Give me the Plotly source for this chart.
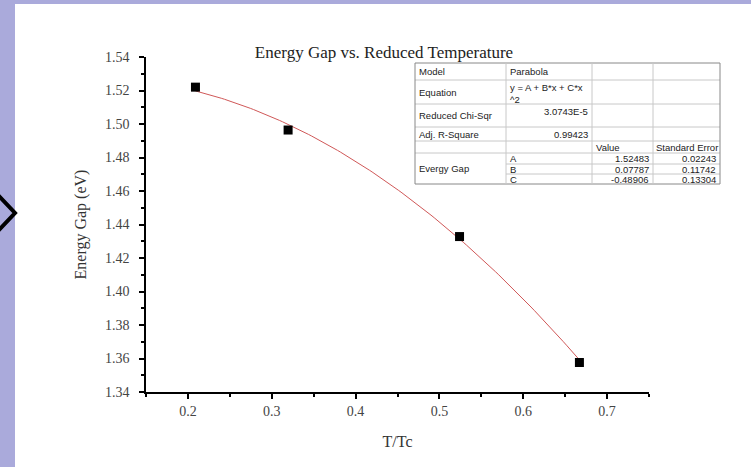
import numpy as np
import plotly.graph_objects as go

# measured points (reduced temperature vs energy gap)
t_ratio = [0.209, 0.3195, 0.524, 0.667]
energy_gap = [1.522, 1.4964, 1.4328, 1.3576]

# parabola fit reported in the table
fit_names = ["A", "B", "C"]
fit_values = [1.52483, 0.07787, -0.48906]
fit_errors = [0.02243, 0.11742, 0.13304]
chi_sqr = "3.0743E-5"
adj_r2 = "0.99423"

W, H = 751, 467
PL, PR, PT, PB = 146, 649, 57, 392


def fx(px):
    return (px - PL) / (PR - PL)


def fy(py):
    return (PB - py) / (PB - PT)


xs = np.linspace(min(t_ratio), max(t_ratio), 120)
A, B, C = fit_values
ys = A + B * xs + C * xs ** 2

fig = go.Figure()
fig.add_trace(go.Scatter(x=xs, y=ys, mode="lines",
                         line=dict(color="#d05858", width=1), hoverinfo="skip"))
fig.add_trace(go.Scatter(x=t_ratio, y=energy_gap, mode="markers",
                         marker=dict(symbol="square", size=9, color="black")))

shapes = []
# white slide area over the lavender background
shapes.append(dict(type="rect", xref="paper", yref="paper", layer="below",
                   x0=fx(15), x1=fx(751), y0=fy(467), y1=fy(4),
                   fillcolor="white", line=dict(width=0)))
# chevron on the left edge
shapes.append(dict(type="path", xref="paper", yref="paper",
                   path="M %f,%f L %f,%f L %f,%f" % (fx(-2), fy(195), fx(15), fy(213),
                                                    fx(-2), fy(231)),
                   line=dict(color="black", width=4)))

# fit results table
cols = [415, 506, 592, 653, 720]
rows = [63, 80, 104, 127, 141, 153, 164, 174, 184]
grid = "#c8c8c8"
for i, ry in enumerate(rows):
    x_start = cols[1] if i in (6, 7) else cols[0]
    shapes.append(dict(type="line", xref="paper", yref="paper",
                       x0=fx(x_start), x1=fx(cols[-1]), y0=fy(ry), y1=fy(ry),
                       line=dict(color="#888" if i in (0, len(rows) - 1) else grid, width=1)))
for j, cx in enumerate(cols):
    shapes.append(dict(type="line", xref="paper", yref="paper",
                       x0=fx(cx), x1=fx(cx), y0=fy(rows[0]), y1=fy(rows[-1]),
                       line=dict(color="#888" if j in (0, len(cols) - 1) else grid, width=1)))

annos = []
tf = dict(family="Liberation Sans, Arial", size=9.5, color="#222")


def cell(text, x, y, xanchor="left", yanchor="middle"):
    annos.append(dict(text=text, x=fx(x), y=fy(y), xref="paper", yref="paper",
                      xanchor=xanchor, yanchor=yanchor, showarrow=False, font=tf,
                      align="left", borderpad=0))


def mid(i):
    return (rows[i] + rows[i + 1]) / 2


cell("Model", cols[0] + 3, mid(0))
cell("Parabola", cols[1] + 3, mid(0))
cell("Equation", cols[0] + 3, mid(1))
cell("y = A + B*x + C*x<br>^2", cols[1] + 3, rows[1] + 1, yanchor="top")
cell("Reduced Chi-Sqr", cols[0] + 3, mid(2))
cell(chi_sqr, cols[2] - 3, rows[2] + 1, xanchor="right", yanchor="top")
cell("Adj. R-Square", cols[0] + 3, mid(3))
cell(adj_r2, cols[2] - 3, mid(3), xanchor="right")
cell("Value", cols[2] + 3, mid(4))
cell("Standard Error", cols[3] + 2, mid(4))
cell("Evergy Gap", cols[0] + 3, (rows[5] + rows[8]) / 2)
for k, name in enumerate(fit_names):
    cell(name, cols[1] + 3, mid(5 + k))
    cell("%.5f" % fit_values[k], cols[3] - 3, mid(5 + k), xanchor="right")
    cell("%.5f" % fit_errors[k], cols[4] - 3, mid(5 + k), xanchor="right")

serif = "Liberation Serif, Times New Roman, serif"
axis_common = dict(showline=True, linecolor="black", linewidth=1.5, showgrid=False,
                   zeroline=False, ticks="outside", ticklen=5, tickwidth=1.5,
                   tickcolor="black", tickfont=dict(family=serif, size=14, color="#444"))

fig.update_layout(
    width=W, height=H, autosize=False,
    margin=dict(l=PL, r=W - PR, t=PT, b=H - PB),
    paper_bgcolor="#aaaadb", plot_bgcolor="white",
    showlegend=False,
    title=dict(text="Energy Gap vs. Reduced Temperature", x=384 / W, xanchor="center",
               y=1 - 52 / H, yanchor="middle",
               font=dict(family=serif, size=17, color="#222")),
    xaxis=dict(axis_common, range=[0.15, 0.75], tick0=0.2, dtick=0.1, tickformat=".1f",
               minor=dict(dtick=0.05, tick0=0.15, ticks="outside", ticklen=3,
                          tickwidth=1.5, tickcolor="black"),
               title=dict(text="T/Tc", standoff=18,
                          font=dict(family=serif, size=16, color="#333"))),
    yaxis=dict(axis_common, range=[1.34, 1.54], tick0=1.34, dtick=0.02, tickformat=".2f",
               ticklabelstandoff=7,
               minor=dict(dtick=0.01, tick0=1.34, ticks="outside", ticklen=3,
                          tickwidth=1.5, tickcolor="black"),
               title=dict(text="Energy Gap (eV)", standoff=14,
                          font=dict(family=serif, size=16, color="#333"))),
    shapes=shapes,
    annotations=annos,
)

fig.write_html("out.html", config={"displayModeBar": False},
               post_script="document.body.style.margin='0';")
